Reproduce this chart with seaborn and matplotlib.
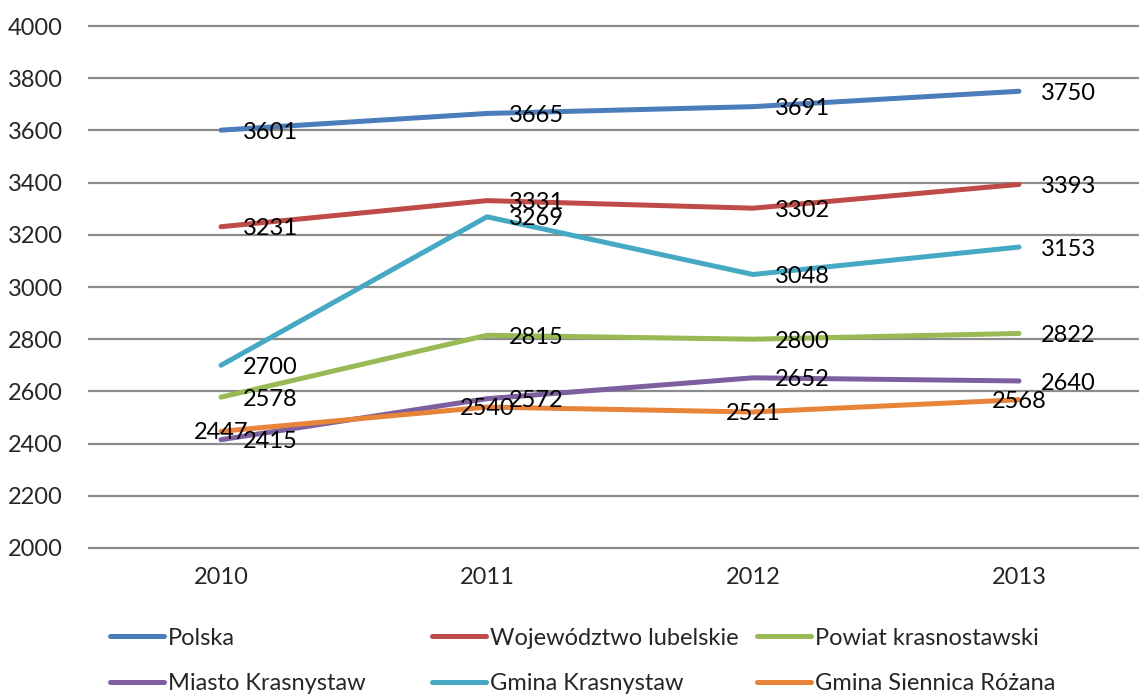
import pandas as pd
import matplotlib
matplotlib.use("Agg")
import matplotlib.pyplot as plt
import seaborn as sns

# Data
years = ["2010", "2011", "2012", "2013"]
polska = [3601, 3665, 3691, 3750]
wojewodztwo = [3231, 3331, 3302, 3393]
powiat = [2578, 2815, 2800, 2822]
miasto = [2415, 2572, 2652, 2640]
gmina_krasnystaw = [2700, 3269, 3048, 3153]
gmina_siennica = [2447, 2540, 2521, 2568]

series = {
    "Polska": polska,
    "Województwo lubelskie": wojewodztwo,
    "Powiat krasnostawski": powiat,
    "Miasto Krasnystaw": miasto,
    "Gmina Krasnystaw": gmina_krasnystaw,
    "Gmina Siennica Różana": gmina_siennica,
}
colors = {
    "Polska": "#4A7DBA",
    "Województwo lubelskie": "#BE4B48",
    "Powiat krasnostawski": "#98B954",
    "Miasto Krasnystaw": "#7D5FA0",
    "Gmina Krasnystaw": "#46A9C4",
    "Gmina Siennica Różana": "#E8843A",
}
# label placement per series ("right" or "center"), like the Excel data labels
label_pos = {name: "right" for name in series}
label_pos["Gmina Siennica Różana"] = "center"

rows = []
for name, vals in series.items():
    for y, v in zip(years, vals):
        rows.append({"Rok": y, "Wartość": v, "Seria": name})
df = pd.DataFrame(rows)

sns.set_theme(style="white")
plt.rcParams["font.family"] = ["Lato", "DejaVu Sans"]
fs = 17

fig = plt.figure(figsize=(11.39, 6.98), dpi=100)
ax = fig.add_axes([88 / 1139, (698 - 550.6) / 698, 1064 / 1139, 527.2 / 698])

sns.lineplot(data=df, x="Rok", y="Wartość", hue="Seria", palette=colors,
             linewidth=3.6, sort=False, ax=ax, legend=False, zorder=3)
for line in ax.lines:
    line.set_solid_capstyle("round")

for name, vals in series.items():
    for i, v in enumerate(vals):
        if label_pos[name] == "right":
            ax.annotate(str(v), (i, v), xytext=(16, -1.5), textcoords="offset points",
                        ha="left", va="center", fontsize=fs, color="black", zorder=5)
        else:
            ax.annotate(str(v), (i, v), xytext=(0, -1), textcoords="offset points",
                        ha="center", va="center", fontsize=fs, color="black", zorder=5)

ax.set_xlim(-0.5, 3.5)
ax.set_ylim(1990, 4010)
ax.set_yticks(range(2000, 4001, 200))
ax.yaxis.grid(True, color="#8C8C8C", linewidth=1.6)
ax.xaxis.grid(False)
for s in ax.spines.values():
    s.set_visible(False)
ax.tick_params(axis="y", length=0, pad=18, labelsize=fs)
ax.tick_params(axis="x", length=0, pad=12, labelsize=fs)
ax.set_xlabel("")
ax.set_ylabel("")

# legend: three columns at fixed positions, two rows each
columns = [
    (["Polska", "Miasto Krasnystaw"], 110),
    (["Województwo lubelskie", "Gmina Krasnystaw"], 432),
    (["Powiat krasnostawski", "Gmina Siennica Różana"], 757),
]
for names, xpix in columns:
    handles = [plt.Line2D([], [], color=colors[n], linewidth=3.6, solid_capstyle="round")
               for n in names]
    leg = fig.legend(handles, names, loc="center left",
                     bbox_to_anchor=(xpix / 1139, 1 - 661 / 698), frameon=False,
                     prop={"size": fs}, handlelength=2.3, handletextpad=0.15,
                     labelspacing=1.05, borderpad=0, borderaxespad=0)

fig.savefig("out.png", dpi=100)
